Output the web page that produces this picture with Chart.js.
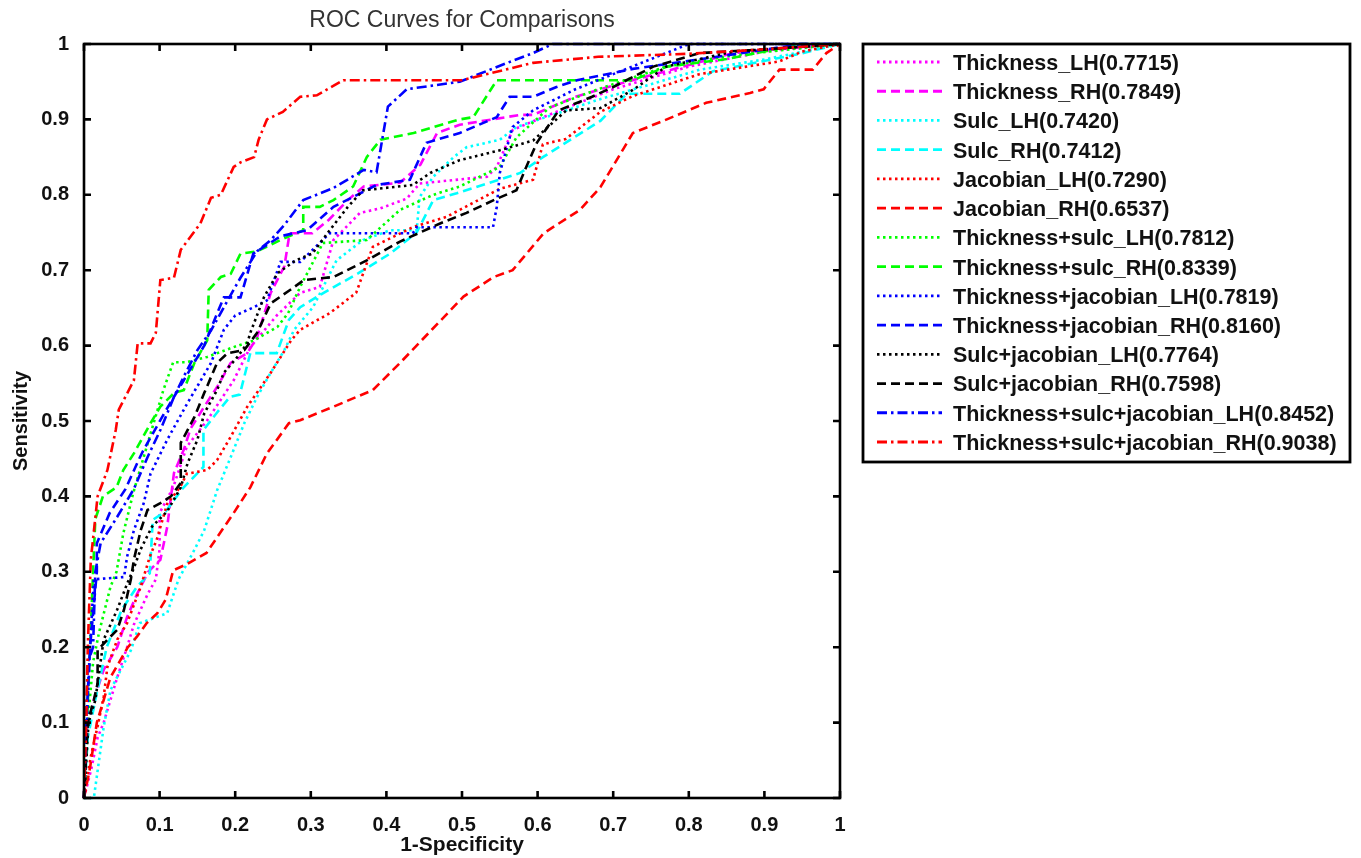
<!DOCTYPE html>
<html>
<head>
<meta charset="utf-8">
<script src="https://cdn.jsdelivr.net/npm/chart.js@4.4.1/dist/chart.umd.min.js"></script>
<style>
  html, body { margin: 0; padding: 0; background: #fff; }
  canvas { display: block; }
</style>
</head>
<body>
<canvas id="rocChart" width="1361" height="858"></canvas>
<script>
// legend names and AUC values, in plot order
const seriesNames = [
  "Thickness_LH", "Thickness_RH", "Sulc_LH", "Sulc_RH", "Jacobian_LH", "Jacobian_RH",
  "Thickness+sulc_LH", "Thickness+sulc_RH", "Thickness+jacobian_LH", "Thickness+jacobian_RH",
  "Sulc+jacobian_LH", "Sulc+jacobian_RH", "Thickness+sulc+jacobian_LH", "Thickness+sulc+jacobian_RH"
];
const aucValues = ["0.7715", "0.7849", "0.7420", "0.7412", "0.7290", "0.6537", "0.7812",
  "0.8339", "0.7819", "0.8160", "0.7764", "0.7598", "0.8452", "0.9038"];

const xTickLabels = ["0", "0.1", "0.2", "0.3", "0.4", "0.5", "0.6", "0.7", "0.8", "0.9", "1"];
const yTickLabels = ["0", "0.1", "0.2", "0.3", "0.4", "0.5", "0.6", "0.7", "0.8", "0.9", "1"];

// ROC points [1-specificity, sensitivity]
const thicknessLH = [[0,0],[0.01,0.04],[0.018,0.08],[0.026,0.1],[0.044,0.16],[0.057,0.2],[0.066,0.23],[0.084,0.27],[0.095,0.29],[0.1,0.33],[0.1,0.378],[0.118,0.412],[0.136,0.466],[0.163,0.501],[0.198,0.554],[0.22,0.598],[0.255,0.64],[0.286,0.67],[0.312,0.678],[0.33,0.74],[0.365,0.776],[0.392,0.782],[0.427,0.795],[0.444,0.815],[0.533,0.824],[0.546,0.837],[0.567,0.886],[0.6,0.9],[0.65,0.92],[0.7,0.94],[0.8,0.97],[0.9,0.99],[1,1]];
const thicknessRH = [[0,0],[0.005,0.1],[0.013,0.13],[0.026,0.17],[0.044,0.2],[0.057,0.24],[0.07,0.27],[0.085,0.3],[0.101,0.316],[0.11,0.359],[0.119,0.431],[0.132,0.462],[0.141,0.49],[0.159,0.519],[0.176,0.545],[0.194,0.577],[0.216,0.59],[0.229,0.611],[0.247,0.67],[0.265,0.705],[0.272,0.749],[0.302,0.749],[0.324,0.767],[0.349,0.793],[0.37,0.811],[0.418,0.816],[0.445,0.84],[0.467,0.882],[0.497,0.893],[0.577,0.906],[0.594,0.906],[0.65,0.93],[0.7,0.945],[0.77,0.964],[0.859,0.988],[1,1]];
const sulcLH = [[0,0],[0.013,0],[0.026,0.094],[0.035,0.143],[0.062,0.196],[0.074,0.232],[0.11,0.245],[0.125,0.29],[0.146,0.329],[0.159,0.355],[0.176,0.408],[0.194,0.452],[0.212,0.497],[0.229,0.532],[0.247,0.564],[0.265,0.594],[0.278,0.621],[0.303,0.651],[0.334,0.713],[0.369,0.74],[0.405,0.753],[0.44,0.753],[0.444,0.797],[0.462,0.824],[0.489,0.85],[0.506,0.863],[0.55,0.873],[0.572,0.89],[0.68,0.926],[0.815,0.966],[0.903,0.98],[1,1]];
const sulcRH = [[0,0],[0.005,0.08],[0.015,0.13],[0.03,0.2],[0.05,0.25],[0.07,0.28],[0.087,0.298],[0.091,0.369],[0.108,0.38],[0.13,0.41],[0.158,0.439],[0.158,0.488],[0.175,0.51],[0.193,0.532],[0.206,0.535],[0.22,0.59],[0.255,0.59],[0.271,0.634],[0.286,0.651],[0.317,0.67],[0.363,0.696],[0.405,0.722],[0.44,0.75],[0.462,0.793],[0.493,0.802],[0.577,0.829],[0.607,0.85],[0.683,0.898],[0.718,0.934],[0.788,0.934],[0.832,0.964],[0.947,0.987],[1,1]];
const jacobianLH = [[0,0],[0.009,0.055],[0.018,0.095],[0.026,0.134],[0.031,0.174],[0.044,0.21],[0.057,0.232],[0.075,0.28],[0.087,0.32],[0.096,0.342],[0.11,0.39],[0.127,0.412],[0.136,0.43],[0.163,0.435],[0.176,0.448],[0.194,0.479],[0.216,0.519],[0.247,0.564],[0.274,0.607],[0.286,0.621],[0.325,0.643],[0.36,0.67],[0.382,0.731],[0.435,0.757],[0.48,0.771],[0.55,0.808],[0.594,0.82],[0.607,0.867],[0.637,0.874],[0.683,0.91],[0.726,0.931],[0.814,0.96],[0.92,0.977],[0.95,0.99],[1,1]];
const jacobianRH = [[0,0],[0.008,0.04],[0.017,0.1],[0.035,0.16],[0.058,0.2],[0.07,0.214],[0.083,0.232],[0.097,0.245],[0.108,0.263],[0.118,0.302],[0.136,0.31],[0.162,0.325],[0.198,0.378],[0.22,0.412],[0.242,0.457],[0.271,0.497],[0.286,0.501],[0.33,0.519],[0.382,0.541],[0.418,0.577],[0.46,0.621],[0.502,0.665],[0.542,0.691],[0.567,0.7],[0.608,0.749],[0.656,0.78],[0.683,0.81],[0.726,0.882],[0.771,0.9],[0.823,0.922],[0.881,0.935],[0.899,0.94],[0.92,0.966],[0.964,0.966],[0.982,0.988],[1,1]];
const thickSulcLH = [[0,0],[0.005,0.1],[0.012,0.18],[0.02,0.22],[0.035,0.28],[0.043,0.3],[0.052,0.351],[0.065,0.404],[0.083,0.466],[0.105,0.541],[0.118,0.578],[0.136,0.578],[0.163,0.585],[0.198,0.598],[0.225,0.607],[0.256,0.625],[0.27,0.643],[0.286,0.678],[0.316,0.736],[0.374,0.74],[0.418,0.78],[0.462,0.8],[0.497,0.811],[0.55,0.837],[0.572,0.876],[0.616,0.916],[0.68,0.94],[0.77,0.97],[0.859,0.985],[1,1]];
const thickSulcRH = [[0,0],[0.004,0.1],[0.008,0.2],[0.012,0.3],[0.015,0.37],[0.025,0.4],[0.043,0.412],[0.052,0.435],[0.066,0.457],[0.088,0.497],[0.101,0.519],[0.119,0.537],[0.132,0.541],[0.146,0.577],[0.163,0.607],[0.165,0.674],[0.181,0.691],[0.194,0.695],[0.207,0.722],[0.229,0.725],[0.26,0.74],[0.29,0.753],[0.29,0.784],[0.312,0.784],[0.33,0.793],[0.356,0.811],[0.374,0.85],[0.392,0.873],[0.436,0.882],[0.497,0.9],[0.515,0.903],[0.546,0.952],[0.726,0.952],[0.771,0.97],[0.85,0.98],[0.95,1],[1,1]];
const thickJacLH = [[0,0],[0.004,0.1],[0.008,0.2],[0.013,0.29],[0.053,0.293],[0.057,0.32],[0.066,0.355],[0.079,0.391],[0.088,0.43],[0.11,0.475],[0.137,0.524],[0.168,0.577],[0.185,0.621],[0.2,0.64],[0.225,0.651],[0.242,0.66],[0.26,0.711],[0.286,0.711],[0.325,0.749],[0.435,0.749],[0.44,0.757],[0.541,0.757],[0.546,0.784],[0.55,0.829],[0.567,0.89],[0.594,0.912],[0.65,0.94],[0.75,0.98],[0.8,1],[1,1]];
const thickJacRH = [[0,0],[0.003,0.1],[0.008,0.2],[0.017,0.3],[0.017,0.338],[0.034,0.378],[0.055,0.41],[0.074,0.452],[0.079,0.462],[0.106,0.51],[0.132,0.554],[0.159,0.6],[0.175,0.64],[0.185,0.664],[0.207,0.664],[0.224,0.722],[0.26,0.745],[0.295,0.753],[0.33,0.784],[0.387,0.813],[0.431,0.82],[0.453,0.869],[0.497,0.882],[0.546,0.903],[0.563,0.93],[0.594,0.93],[0.625,0.943],[0.652,0.952],[0.726,0.967],[0.85,0.985],[0.95,1],[1,1]];
const sulcJacLH = [[0,0],[0.006,0.1],[0.015,0.13],[0.026,0.21],[0.044,0.25],[0.057,0.284],[0.066,0.305],[0.075,0.33],[0.09,0.36],[0.11,0.38],[0.128,0.412],[0.137,0.444],[0.15,0.475],[0.159,0.51],[0.176,0.541],[0.185,0.564],[0.203,0.585],[0.216,0.603],[0.22,0.617],[0.238,0.664],[0.256,0.696],[0.28,0.713],[0.302,0.722],[0.325,0.753],[0.349,0.784],[0.369,0.806],[0.435,0.813],[0.458,0.829],[0.497,0.846],[0.55,0.859],[0.594,0.872],[0.638,0.912],[0.683,0.915],[0.726,0.939],[0.77,0.97],[0.859,0.99],[1,1]];
const sulcJacRH = [[0,0],[0.005,0.1],[0.013,0.13],[0.018,0.152],[0.018,0.196],[0.031,0.21],[0.044,0.223],[0.053,0.25],[0.062,0.29],[0.066,0.316],[0.075,0.355],[0.084,0.382],[0.101,0.391],[0.115,0.4],[0.128,0.418],[0.128,0.471],[0.146,0.505],[0.159,0.537],[0.176,0.577],[0.19,0.59],[0.212,0.594],[0.229,0.617],[0.247,0.656],[0.273,0.674],[0.291,0.687],[0.33,0.691],[0.374,0.713],[0.418,0.738],[0.471,0.762],[0.506,0.776],[0.542,0.793],[0.572,0.806],[0.585,0.837],[0.599,0.869],[0.628,0.912],[0.672,0.93],[0.7,0.943],[0.753,0.97],[0.815,0.988],[0.903,0.993],[1,1]];
const allLH = [[0,0],[0.003,0.1],[0.005,0.18],[0.012,0.2],[0.015,0.3],[0.022,0.338],[0.044,0.373],[0.066,0.41],[0.084,0.452],[0.101,0.488],[0.119,0.532],[0.132,0.559],[0.15,0.594],[0.168,0.62],[0.19,0.66],[0.207,0.69],[0.229,0.725],[0.247,0.74],[0.265,0.76],[0.29,0.793],[0.33,0.809],[0.37,0.833],[0.387,0.83],[0.402,0.917],[0.427,0.94],[0.497,0.95],[0.56,0.975],[0.594,0.988],[0.62,1],[1,1]];
const allRH = [[0,0],[0.003,0.1],[0.005,0.2],[0.009,0.316],[0.018,0.4],[0.031,0.435],[0.042,0.488],[0.046,0.515],[0.066,0.554],[0.071,0.603],[0.088,0.603],[0.095,0.617],[0.101,0.687],[0.119,0.69],[0.128,0.727],[0.154,0.762],[0.168,0.796],[0.181,0.8],[0.198,0.837],[0.207,0.843],[0.225,0.85],[0.231,0.873],[0.242,0.9],[0.263,0.91],[0.286,0.93],[0.308,0.932],[0.343,0.952],[0.5,0.952],[0.594,0.975],[0.68,0.983],[0.8,0.987],[0.9,0.993],[1,1]];

const curves = [thicknessLH, thicknessRH, sulcLH, sulcRH, jacobianLH, jacobianRH,
  thickSulcLH, thickSulcRH, thickJacLH, thickJacRH, sulcJacLH, sulcJacRH, allLH, allRH];

// styling (matlab style: ':' '--' '-.')
const dotted = [2.5, 3.5], dashed = [9, 5], dashDot = [10, 4, 2.5, 4];
const lineColors = ["#ff00ff", "#ff00ff", "#00ffff", "#00ffff", "#ff0000", "#ff0000", "#00ff00",
  "#00ff00", "#0000ff", "#0000ff", "#000000", "#000000", "#0000ff", "#ff0000"];
const lineDashes = [dotted, dashed, dotted, dashed, dotted, dashed, dotted,
  dashed, dotted, dashed, dotted, dashed, dashDot, dashDot];

const FONT = "'Liberation Sans', Arial, Helvetica, sans-serif";

const datasets = curves.map((pts, i) => ({
  label: seriesNames[i] + "(" + aucValues[i] + ")",
  data: pts.map(([x, y]) => ({ x, y })),
  showLine: true,
  borderColor: lineColors[i],
  backgroundColor: lineColors[i],
  borderDash: lineDashes[i],
  borderWidth: 2.6,
  pointRadius: 0,
  tension: 0,
  clip: 3,
  order: curves.length - i
}));

// box round the axes with inward ticks on all four sides
const frameTicks = {
  id: "frameTicks",
  afterDatasetsDraw(chart) {
    const { ctx, chartArea: a, scales: { x, y } } = chart;
    ctx.save();
    ctx.setLineDash([]);
    ctx.strokeStyle = "#000";
    ctx.lineWidth = 2.6;
    ctx.beginPath();
    x.ticks.forEach(t => {
      const px = x.getPixelForValue(t.value);
      ctx.moveTo(px, a.bottom); ctx.lineTo(px, a.bottom - 7);
      ctx.moveTo(px, a.top); ctx.lineTo(px, a.top + 7);
    });
    y.ticks.forEach(t => {
      const py = y.getPixelForValue(t.value);
      ctx.moveTo(a.left, py); ctx.lineTo(a.left + 7, py);
      ctx.moveTo(a.right, py); ctx.lineTo(a.right - 7, py);
    });
    ctx.stroke();
    ctx.strokeRect(a.left, a.top, a.right - a.left, a.bottom - a.top);
    ctx.restore();
  }
};

// matlab-like legend box to the right of the axes
const sideLegend = {
  id: "sideLegend",
  afterDraw(chart) {
    const { ctx, chartArea: a } = chart;
    const left = a.right + 23, top = a.top, w = 487, h = 418;
    const rowH = 29.23, firstRow = top + 19;
    ctx.save();
    ctx.fillStyle = "#fff";
    ctx.fillRect(left, top, w, h);
    ctx.setLineDash([]);
    ctx.strokeStyle = "#000";
    ctx.lineWidth = 2.8;
    ctx.strokeRect(left, top, w, h);
    ctx.font = "bold 21.5px " + FONT;
    ctx.textBaseline = "middle";
    ctx.textAlign = "left";
    chart.data.datasets.forEach((ds, i) => {
      const cy = firstRow + i * rowH;
      ctx.strokeStyle = ds.borderColor;
      ctx.lineWidth = 2.8;
      ctx.setLineDash(ds.borderDash);
      ctx.beginPath();
      ctx.moveTo(left + 14, cy - 1);
      ctx.lineTo(left + 79, cy - 1);
      ctx.stroke();
      ctx.fillStyle = "#111";
      ctx.fillText(ds.label, left + 90, cy + 1);
    });
    ctx.restore();
  }
};

new Chart(document.getElementById("rocChart"), {
  type: "scatter",
  data: { datasets },
  plugins: [frameTicks, sideLegend],
  options: {
    responsive: false,
    animation: false,
    devicePixelRatio: 1,
    layout: { padding: { left: 0, right: 521, top: 0, bottom: 0 } },
    plugins: {
      legend: { display: false },
      tooltip: { enabled: false },
      title: {
        display: true,
        text: "ROC Curves for Comparisons",
        fullSize: false,
        color: "#333",
        font: { family: FONT, size: 23, weight: "normal", lineHeight: 1.2 },
        padding: { top: 7, bottom: 9.4 }
      }
    },
    scales: {
      x: {
        type: "linear",
        min: 0, max: 1,
        grid: { display: false },
        border: { display: false },
        ticks: {
          stepSize: 0.1,
          maxRotation: 0,
          autoSkip: false,
          padding: 7,
          color: "#111",
          font: { family: FONT, size: 20, weight: "bold" },
          callback: (v, i) => xTickLabels[i] ?? String(v)
        },
        title: {
          display: true,
          text: "1-Specificity",
          color: "#111",
          font: { family: FONT, size: 21, weight: "bold" },
          padding: { top: 0, bottom: 0 }
        },
        afterFit: s => { s.height = 60; }
      },
      y: {
        type: "linear",
        min: 0, max: 1,
        grid: { display: false },
        border: { display: false },
        ticks: {
          stepSize: 0.1,
          autoSkip: false,
          padding: 7,
          color: "#111",
          font: { family: FONT, size: 20, weight: "bold" },
          callback: (v, i) => yTickLabels[i] ?? String(v)
        },
        title: {
          display: true,
          text: "Sensitivity",
          color: "#111",
          font: { family: FONT, size: 20, weight: "bold" },
          padding: { top: 9, bottom: 0 }
        },
        afterFit: s => { s.width = 84; }
      }
    }
  }
});
</script>
</body>
</html>
